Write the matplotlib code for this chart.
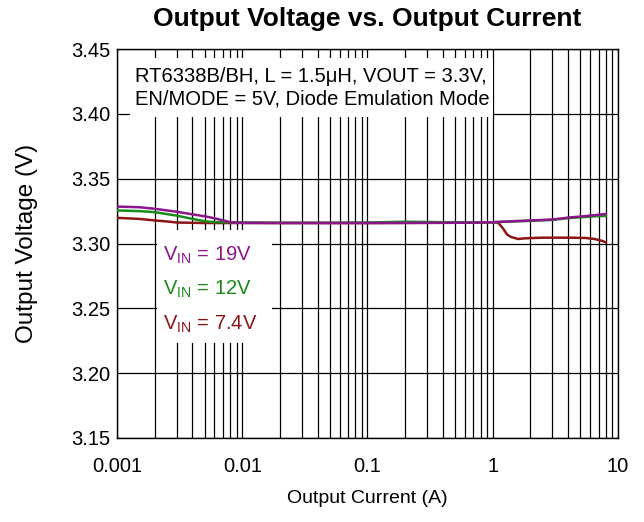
import matplotlib
matplotlib.use("Agg")
import matplotlib.pyplot as plt
from matplotlib.ticker import LogLocator, FixedLocator, NullFormatter, FixedFormatter
from matplotlib.patches import Rectangle

plt.rcParams['font.family'] = ['Liberation Sans', 'DejaVu Sans']
plt.rcParams['mathtext.fontset'] = 'custom'
plt.rcParams['mathtext.rm'] = 'Liberation Sans'

# Output current (A) and output voltage (V) for each input voltage
i_19v = [0.001, 0.0015, 0.002, 0.003, 0.004, 0.005, 0.006, 0.008, 0.01, 0.02,
         0.05, 0.1, 0.2, 0.5, 0.8, 1.0, 1.3, 2.0, 3.0, 4.0, 5.0, 6.0, 7.0, 8.0]
v_19v = [3.3285, 3.3280, 3.3268, 3.3245, 3.3225, 3.3210, 3.3195, 3.3165, 3.3160, 3.3158,
         3.3158, 3.3158, 3.3159, 3.3160, 3.3162, 3.3164, 3.3170, 3.3178, 3.3185, 3.3200,
         3.3208, 3.3215, 3.3222, 3.3228]

i_12v = [0.001, 0.0015, 0.002, 0.003, 0.004, 0.005, 0.006, 0.01, 0.02, 0.05,
         0.1, 0.2, 0.3, 0.5, 0.8, 1.0, 1.3, 2.0, 3.0, 4.0, 5.0, 6.0, 7.0, 8.0]
v_12v = [3.3255, 3.3250, 3.3242, 3.3215, 3.3190, 3.3172, 3.3165, 3.3162, 3.3160, 3.3160,
         3.3162, 3.3168, 3.3166, 3.3163, 3.3163, 3.3164, 3.3168, 3.3175, 3.3182, 3.3196,
         3.3202, 3.3207, 3.3212, 3.3212]

i_7v4 = [0.001, 0.0015, 0.002, 0.0025, 0.003, 0.005, 0.01, 0.1, 0.5, 1.0, 1.1,
         1.2, 1.3, 1.4, 1.6, 1.8, 2.5, 4.0, 5.5, 6.5, 7.5, 8.0]
v_7v4 = [3.3198, 3.3190, 3.3178, 3.3170, 3.3162, 3.3158, 3.3158, 3.3158, 3.3160, 3.3164, 3.3162,
         3.3120, 3.3070, 3.3050, 3.3035, 3.3040, 3.3045, 3.3045, 3.3043, 3.3035, 3.3020, 3.3008]

series_labels = ['V$_\\mathregular{IN}$ = 19V', 'V$_\\mathregular{IN}$ = 12V', 'V$_\\mathregular{IN}$ = 7.4V']
series_colors = ['#8B168B', '#1A8A1A', '#8B1515']
label_y = [3.2912, 3.2645, 3.2375]

x_ticks = [0.001, 0.01, 0.1, 1, 10]
x_tick_labels = ['0.001', '0.01', '0.1', '1', '10']
y_ticks = [3.15, 3.20, 3.25, 3.30, 3.35, 3.40, 3.45]
y_tick_labels = ['3.15', '3.20', '3.25', '3.30', '3.35', '3.40', '3.45']

fig = plt.figure(figsize=(6.44, 5.22), dpi=100)
ax = fig.add_axes([0.1817, 0.161, 0.7779, 0.745])

ax.set_xscale('log')
ax.set_xlim(0.001, 10)
ax.set_ylim(3.15, 3.45)

ax.xaxis.set_major_locator(FixedLocator(x_ticks))
ax.xaxis.set_major_formatter(FixedFormatter(x_tick_labels))
ax.xaxis.set_minor_locator(LogLocator(base=10, subs=range(2, 10)))
ax.xaxis.set_minor_formatter(NullFormatter())
ax.yaxis.set_major_locator(FixedLocator(y_ticks))
ax.yaxis.set_major_formatter(FixedFormatter(y_tick_labels))

ax.grid(True, which='both', axis='x', color='black', linewidth=0.9)
ax.grid(True, which='major', axis='y', color='black', linewidth=0.9)
ax.tick_params(which='both', length=0, labelsize=14.5, colors='black')
ax.tick_params(axis='x', pad=14)
ax.tick_params(axis='y', pad=5)
for s in ax.spines.values():
    s.set_color('black')
    s.set_linewidth(1.0)

# curves, with the 19 V trace drawn on top
ax.plot(i_7v4, v_7v4, color=series_colors[2], linewidth=1.8, zorder=3)
ax.plot(i_12v, v_12v, color=series_colors[1], linewidth=1.8, zorder=4)
ax.plot(i_19v, v_19v, color=series_colors[0], linewidth=1.8, zorder=5)

# white panels behind the notes
ax.add_patch(Rectangle((0.026, 0.825), 0.724, 0.152, transform=ax.transAxes,
                       facecolor='white', edgecolor='none', zorder=2))
ax.add_patch(Rectangle((0.080, 0.244), 0.229, 0.291, transform=ax.transAxes,
                       facecolor='white', edgecolor='none', zorder=2))

ax.text(0.036, 0.900, 'RT6338B/BH, L = 1.5\u03bcH, VOUT = 3.3V,\nEN/MODE = 5V, Diode Emulation Mode',
        transform=ax.transAxes, fontsize=14.5, va='center', ha='left', linespacing=1.2, zorder=6)

for label, color, yv in zip(series_labels, series_colors, label_y):
    ax.text(0.00233, yv, label, color=color, fontsize=14.5, va='center', ha='left', zorder=6)

fig.text(0.5706, 1 - 19 / 522, 'Output Voltage vs. Output Current', fontsize=19,
         fontweight='bold', ha='center', va='center')
ax.set_xlabel('Output Current (A)', fontsize=14, labelpad=10)
ax.set_ylabel('Output Voltage (V)', fontsize=17.5)
ax.yaxis.set_label_coords(-0.158, 0.5)

fig.savefig('out.png', dpi=100)
